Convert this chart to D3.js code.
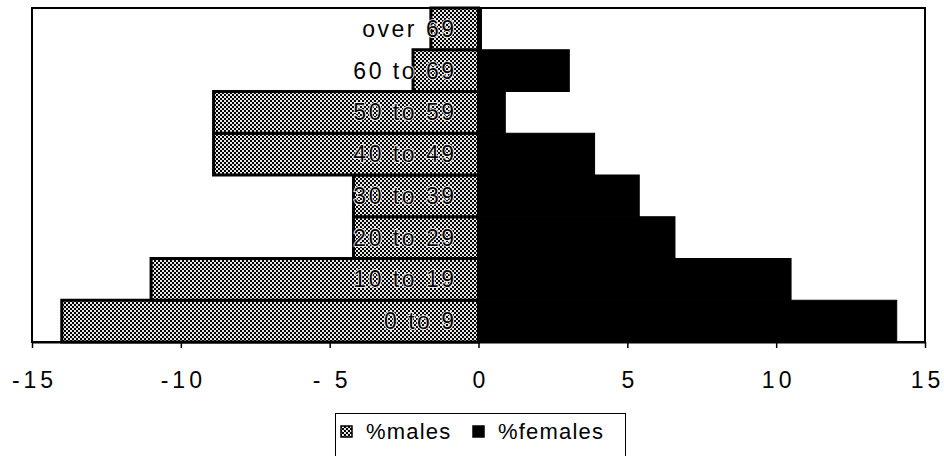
<!DOCTYPE html>
<html>
<head>
<meta charset="utf-8">
<script src="https://cdn.jsdelivr.net/npm/d3@7"></script>
<style>
  body { margin: 0; background: #fff; }
  svg { display: block; font-family: "Liberation Sans", Arial, sans-serif; }
</style>
</head>
<body>
<svg id="chart" width="944" height="456"></svg>
<script>
// age groups from bottom to top, as the chart stacks them
const ageGroups = ["0 to 9", "10 to 19", "20 to 29", "30 to 39", "40 to 49", "50 to 59", "60 to 69", "over 69"];
const males = [-14.0, -11.0, -4.2, -4.2, -8.9, -8.9, -2.2, -1.6];
const females = [14.05, 10.5, 6.6, 5.4, 3.9, 0.9, 3.05, 0.1];
const tickValues = [-15, -10, -5, 0, 5, 10, 15];
const tickLabels = ["-15", "-10", "- 5", "0", "5", "10", "15"];
const seriesNames = ["%males", "%females"];

const svg = d3.select("#chart");
const plotLeft = 32, plotRight = 925, plotTop = 8, plotBottom = 342;

const x = d3.scaleLinear().domain([-15, 15]).range([plotLeft, plotRight]);
const y = d3.scaleBand()
  .domain(ageGroups.slice().reverse())
  .range([plotTop, plotBottom])
  .padding(0);

// 2px checker hatch for the male bars
const defs = svg.append("defs");
const pat = defs.append("pattern")
  .attr("id", "hatch")
  .attr("width", 4)
  .attr("height", 4)
  .attr("patternUnits", "userSpaceOnUse");
pat.append("rect").attr("width", 4).attr("height", 4).attr("fill", "#000");
pat.append("rect").attr("x", 0).attr("y", 0).attr("width", 2).attr("height", 2).attr("fill", "#e8e8e8");
pat.append("rect").attr("x", 2).attr("y", 2).attr("width", 2).attr("height", 2).attr("fill", "#e8e8e8");

// plot frame
svg.append("rect")
  .attr("x", plotLeft)
  .attr("y", plotTop)
  .attr("width", plotRight - plotLeft)
  .attr("height", plotBottom - plotTop)
  .attr("fill", "#fff")
  .attr("stroke", "#000")
  .attr("stroke-width", 2);

svg.append("g")
  .selectAll("rect")
  .data(ageGroups)
  .join("rect")
  .attr("x", (d, i) => x(males[i]))
  .attr("y", d => y(d))
  .attr("width", (d, i) => x(0) - x(males[i]))
  .attr("height", y.bandwidth())
  .attr("fill", "url(#hatch)")
  .attr("stroke", "#000")
  .attr("stroke-width", 3);

svg.append("g")
  .selectAll("rect")
  .data(ageGroups)
  .join("rect")
  .attr("x", x(0))
  .attr("y", d => y(d))
  .attr("width", (d, i) => x(females[i]) - x(0))
  .attr("height", y.bandwidth())
  .attr("fill", "#000")
  .attr("stroke", "#000")
  .attr("stroke-width", 1);

// category labels, drawn over the hatch with a thin white halo
svg.append("g")
  .selectAll("text")
  .data(ageGroups)
  .join("text")
  .attr("x", x(0) - 22)
  .attr("y", d => y(d) + y.bandwidth() / 2)
  .attr("dy", "0.35em")
  .attr("text-anchor", "end")
  .attr("font-size", 23)
  .attr("letter-spacing", 2.5)
  .attr("fill", "#000")
  .attr("stroke", "#fff")
  .attr("stroke-width", 1.6)
  .attr("paint-order", "stroke")
  .text(d => d);

// bottom axis
const axis = svg.append("g")
  .attr("transform", `translate(0,${plotBottom})`)
  .call(d3.axisBottom(x)
    .tickValues(tickValues)
    .tickFormat((d, i) => tickLabels[i])
    .tickSize(6)
    .tickSizeOuter(0));
axis.select(".domain").attr("stroke-width", 2);
axis.selectAll(".tick line").attr("stroke-width", 1.5);
axis.selectAll(".tick text")
  .attr("y", 46)
  .attr("dy", 0)
  .attr("font-size", 23)
  .attr("font-family", "Liberation Sans, Arial, sans-serif")
  .attr("letter-spacing", 4)
  .attr("fill", "#000")
  .style("white-space", "pre")
  .attr("dx", 2);

// legend
const legend = svg.append("g");
legend.append("rect")
  .attr("x", 335.5)
  .attr("y", 413.5)
  .attr("width", 290)
  .attr("height", 60)
  .attr("fill", "#fff")
  .attr("stroke", "#000")
  .attr("stroke-width", 1);

const legendX = [341, 473];
const legendFill = ["url(#hatch)", "#000"];
seriesNames.forEach((name, i) => {
  legend.append("rect")
    .attr("x", legendX[i])
    .attr("y", 426)
    .attr("width", 11)
    .attr("height", 11)
    .attr("fill", legendFill[i])
    .attr("stroke", "#000")
    .attr("stroke-width", 1.5);
  legend.append("text")
    .attr("x", legendX[i] + 25)
    .attr("y", 439)
    .attr("font-size", 22)
    .attr("letter-spacing", 1.2)
    .attr("fill", "#000")
    .text(name);
});
</script>
</body>
</html>
